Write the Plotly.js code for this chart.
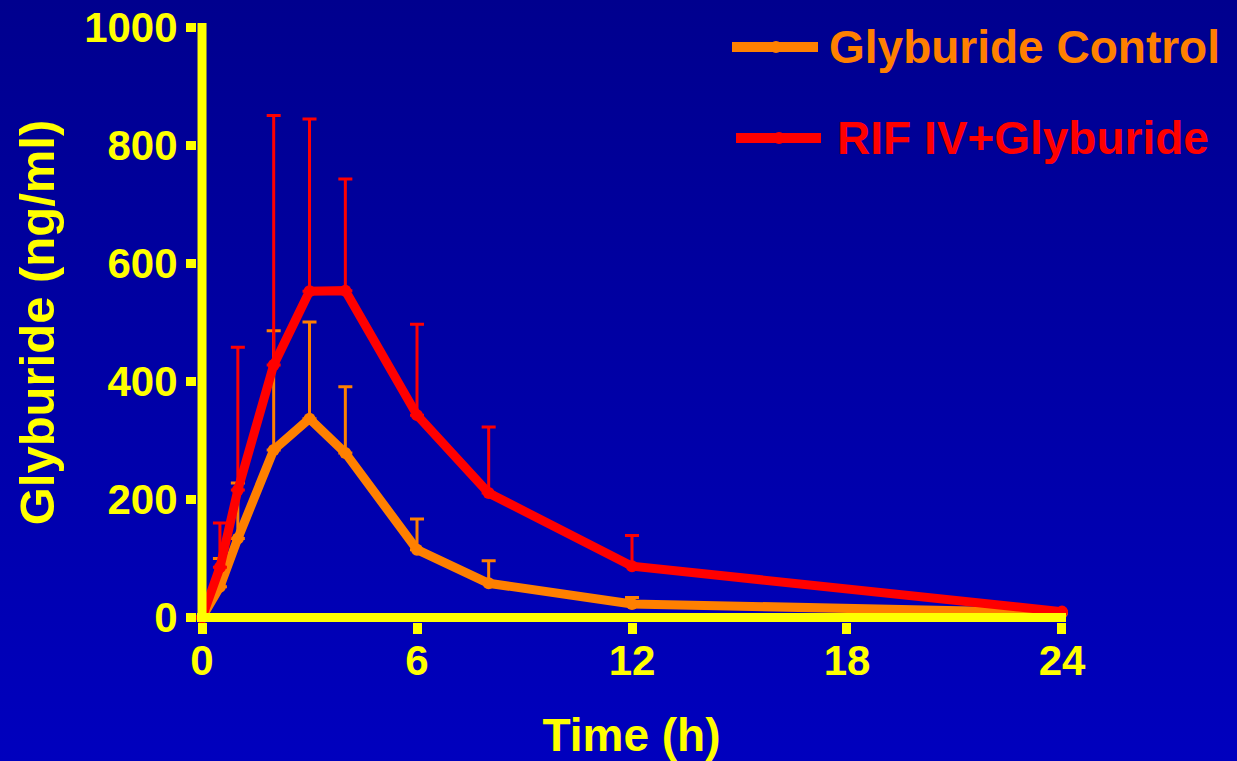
<!DOCTYPE html>
<html>
<head>
<meta charset="utf-8">
<script src="https://cdn.plot.ly/plotly-3.0.1.min.js"></script>
<style>
  html, body { margin: 0; padding: 0; }
  body { width: 1237px; height: 761px; overflow: hidden;
         background: linear-gradient(to bottom, #00008E 0%, #0000BE 100%); }
  #chart { width: 1237px; height: 761px; }
</style>
</head>
<body>
<div id="chart"></div>
<script>
// ---- data ----
const timeH = [0, 0.5, 1, 2, 3, 4, 6, 8, 12, 24];
const controlMean = [0, 52, 134, 284, 337, 279, 115, 58, 23, 8];
const controlErrUp = [null, 48, 94, 202, 164, 112, 52, 38, 11, null];
const rifMean = [0, 85, 216, 428, 553, 554, 343, 211, 87, 10];
const rifErrUp = [null, 75, 242, 423, 292, 189, 154, 112, 52, null];
const xTickVals = [0, 6, 12, 18, 24];
const yTickVals = [0, 200, 400, 600, 800, 1000];
const seriesNames = ["Glyburide Control", "RIF IV+Glyburide"];

// ---- styling ----
const YELLOW = "#FFFF00";
const ORANGE = "#FF8000";
const RED = "#FF0000";
const FONT = "Liberation Sans, Arial, sans-serif";
const W = 1237, H = 761;
const M = { l: 197, r: 171, t: 23, b: 139 };
const xRange = [-0.14, 24.112];
const yRange = [-7.6, 1007.6];
const px = v => (v - M.l) / (W - M.l - M.r);
const py = v => 1 - (v - M.t) / (H - M.t - M.b);

function series(name, y, err, color) {
  return {
    type: "scatter", mode: "lines+markers", name: name,
    x: timeH, y: y,
    line: { color: color, width: 9 },
    marker: { color: color, size: 12 },
    error_y: { type: "data", symmetric: false, array: err,
               arrayminus: err.map(() => 0),
               color: color, thickness: 3, width: 7 },
    cliponaxis: false
  };
}

const traces = [
  series(seriesNames[0], controlMean, controlErrUp, ORANGE),
  series(seriesNames[1], rifMean, rifErrUp, RED)
];

const legendItems = [
  { name: seriesNames[0], color: ORANGE, x0: 732, x1: 818, y: 47, mx: 776, tx: 827 },
  { name: seriesNames[1], color: RED, x0: 736, x1: 821, y: 138, mx: 779, tx: 835 }
];

const shapes = [
  { type: "line", xref: "x", yref: "y", x0: 0, x1: 0, y0: yRange[0], y1: yRange[1],
    line: { color: YELLOW, width: 9 }, layer: "above" },
  { type: "line", xref: "x", yref: "y", x0: xRange[0], x1: xRange[1], y0: 0, y1: 0,
    line: { color: YELLOW, width: 9 }, layer: "above" }
];
const annotations = [];
legendItems.forEach(it => {
  shapes.push({ type: "line", xref: "paper", yref: "paper",
    x0: px(it.x0), x1: px(it.x1), y0: py(it.y), y1: py(it.y),
    line: { color: it.color, width: 10 } });
  shapes.push({ type: "circle", xref: "paper", yref: "paper",
    x0: px(it.mx - 6), x1: px(it.mx + 6), y0: py(it.y - 6), y1: py(it.y + 6),
    fillcolor: it.color, line: { width: 0 } });
  annotations.push({ xref: "paper", yref: "paper", x: px(it.tx), y: py(it.y),
    xanchor: "left", yanchor: "middle", showarrow: false, text: it.name,
    font: { family: FONT, size: 46, weight: "bold", color: it.color } });
});

const layout = {
  width: W, height: H,
  margin: M,
  paper_bgcolor: "rgba(0,0,0,0)",
  plot_bgcolor: "rgba(0,0,0,0)",
  showlegend: false,
  xaxis: {
    range: xRange, tickmode: "array", tickvals: xTickVals,
    showgrid: false, zeroline: false, showline: false,
    ticks: "outside", ticklen: 11, tickwidth: 9, tickcolor: YELLOW,
    ticklabelstandoff: -9,
    tickfont: { family: FONT, size: 42, weight: "bold", color: YELLOW },
    title: { text: "Time (h)", standoff: 38,
             font: { family: FONT, size: 46, weight: "bold", color: YELLOW } }
  },
  yaxis: {
    range: yRange, tickmode: "array", tickvals: yTickVals,
    showgrid: false, zeroline: false, showline: false,
    ticks: "outside", ticklen: 10, tickwidth: 9, tickcolor: YELLOW,
    tickfont: { family: FONT, size: 42, weight: "bold", color: YELLOW },
    title: { text: "Glyburide (ng/ml)", standoff: 14,
             font: { family: FONT, size: 49, weight: "bold", color: YELLOW } }
  },
  shapes: shapes,
  annotations: annotations
};

Plotly.newPlot("chart", traces, layout, { displayModeBar: false, staticPlot: true });
</script>
</body>
</html>
